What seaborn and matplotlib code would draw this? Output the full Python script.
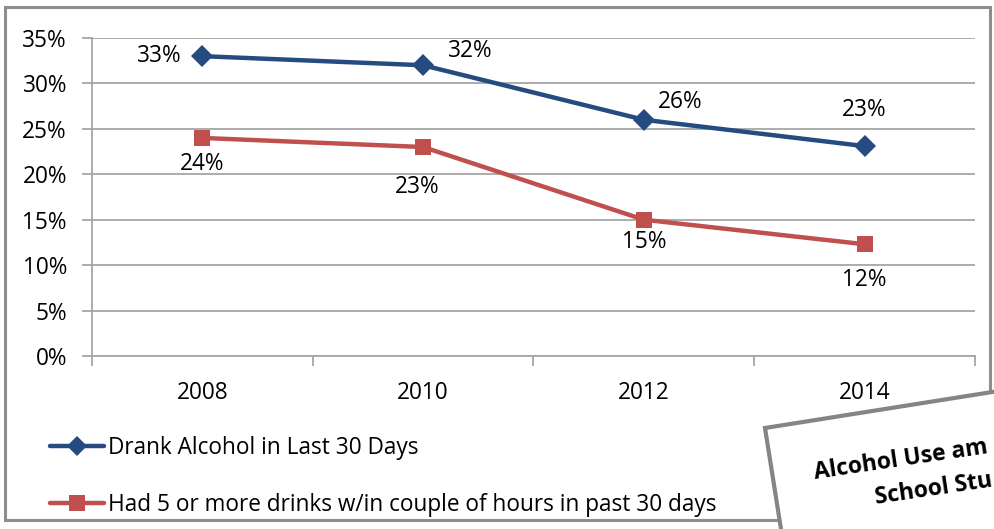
import numpy as np
import pandas as pd
import seaborn as sns
import matplotlib.pyplot as plt
from matplotlib.patches import Rectangle
from matplotlib.lines import Line2D

# data
years = ["2008", "2010", "2012", "2014"]
drank_30 = [33.0, 32.0, 26.0, 23.1]
binge_30 = [24.0, 23.0, 15.0, 12.3]
series_names = ["Drank Alcohol in Last 30 Days",
                "Had 5 or more drinks w/in couple of hours in past 30 days"]
# only the visible part of the caption box (cropped in the reference)
box_lines = ["Alcohol Use am", "School Stu"]

BLUE = "#254B80"
RED = "#C0504D"
GRID = "#A6A6A6"
FS = 16.3

sns.set_theme(style="white", rc={"text.color": "black", "xtick.color": "black",
                                 "ytick.color": "black"})
plt.rcParams["font.family"] = ["Open Sans", "DejaVu Sans"]

df = pd.DataFrame({
    "Year": years * 2,
    "Pct": drank_30 + binge_30,
    "Series": [series_names[0]] * 4 + [series_names[1]] * 4,
})

W, H = 995, 529
fig = plt.figure(figsize=(W / 100, H / 100), dpi=100)
ax = fig.add_axes([92 / W, 1 - 356 / H, (975 - 92) / W, (356 - 38) / H])

sns.lineplot(data=df, x="Year", y="Pct", hue="Series", style="Series",
             palette=[BLUE, RED], markers=["D", "s"], dashes=False,
             linewidth=3.2, markersize=11, markeredgewidth=0,
             ax=ax, legend=False, sort=False)

# data labels (pixel offsets from each point)
blue_off = [(-43, 0), (47, 14), (36, 18), (0, 36)]
red_off = [(0, -26), (-6, -40), (0, -22), (0, -36)]
for i in range(4):
    ax.annotate(f"{round(drank_30[i])}%", (i, drank_30[i]), xytext=blue_off[i],
                textcoords="offset pixels", ha="center", va="center", fontsize=FS)
    ax.annotate(f"{round(binge_30[i])}%", (i, binge_30[i]), xytext=red_off[i],
                textcoords="offset pixels", ha="center", va="center", fontsize=FS)

ax.set_xlim(-0.5, 3.5)
ax.set_ylim(0, 35)
ax.set_yticks(np.arange(0, 36, 5))
ax.set_yticklabels([f"{v}%" for v in range(0, 36, 5)], fontsize=FS)
ax.set_xticks(range(4))
ax.set_xticklabels(years, fontsize=FS)
ax.set_xticks(np.arange(-0.5, 4, 1), minor=True)
ax.tick_params(axis="x", which="major", length=0, pad=18)
ax.tick_params(axis="x", which="minor", length=7, width=1.3, color=GRID, direction="out", bottom=True)
ax.tick_params(axis="y", length=7, width=1.3, color=GRID, direction="out", left=True, pad=11)
ax.set_xlabel("")
ax.set_ylabel("")
ax.grid(axis="y", color=GRID, linewidth=1.3)
ax.grid(axis="x", visible=False)
for s in ["top", "right"]:
    ax.spines[s].set_visible(False)
for s in ["left", "bottom"]:
    ax.spines[s].set_color(GRID)
    ax.spines[s].set_linewidth(1.3)

# legend below the plot
handles = [Line2D([], [], color=BLUE, lw=3.2, marker="D", markersize=10, markeredgewidth=0),
           Line2D([], [], color=RED, lw=3.2, marker="s", markersize=12, markeredgewidth=0)]
fig.legend(handles, series_names, loc="upper left", bbox_to_anchor=(50 / W, 1 - 436 / H),
           frameon=False, fontsize=FS, handlelength=2.4, handletextpad=0.15,
           labelspacing=1.45, borderpad=0, borderaxespad=0)

# outer frame
inch = fig.dpi_scale_trans
def px(x, y):
    return (x / 100, (H - y) / 100)

fig.patches.append(Rectangle(px(5, 520), 985 / 100, 513 / 100, transform=inch,
                             fill=False, edgecolor="#8E8E8E", linewidth=2.2, zorder=5))

# tilted caption box in the lower right corner
th = np.deg2rad(9)
h = 150
llx, lly = 765 + h * np.sin(th), (H - 428) - h * np.cos(th)
fig.patches.append(Rectangle((llx / 100, lly / 100), 4.0, h / 100, angle=9, transform=inch,
                             facecolor="white", edgecolor="#858585", linewidth=3, zorder=10))
fig.text(*px(815, 479), box_lines[0], transform=inch, rotation=8.5, rotation_mode="anchor",
         ha="left", va="baseline", fontsize=16.5, fontweight="bold", zorder=11)
fig.text(*px(876, 504), box_lines[1], transform=inch, rotation=8.5, rotation_mode="anchor",
         ha="left", va="baseline", fontsize=16.5, fontweight="bold", zorder=11)

fig.savefig("out.png", dpi=100)
